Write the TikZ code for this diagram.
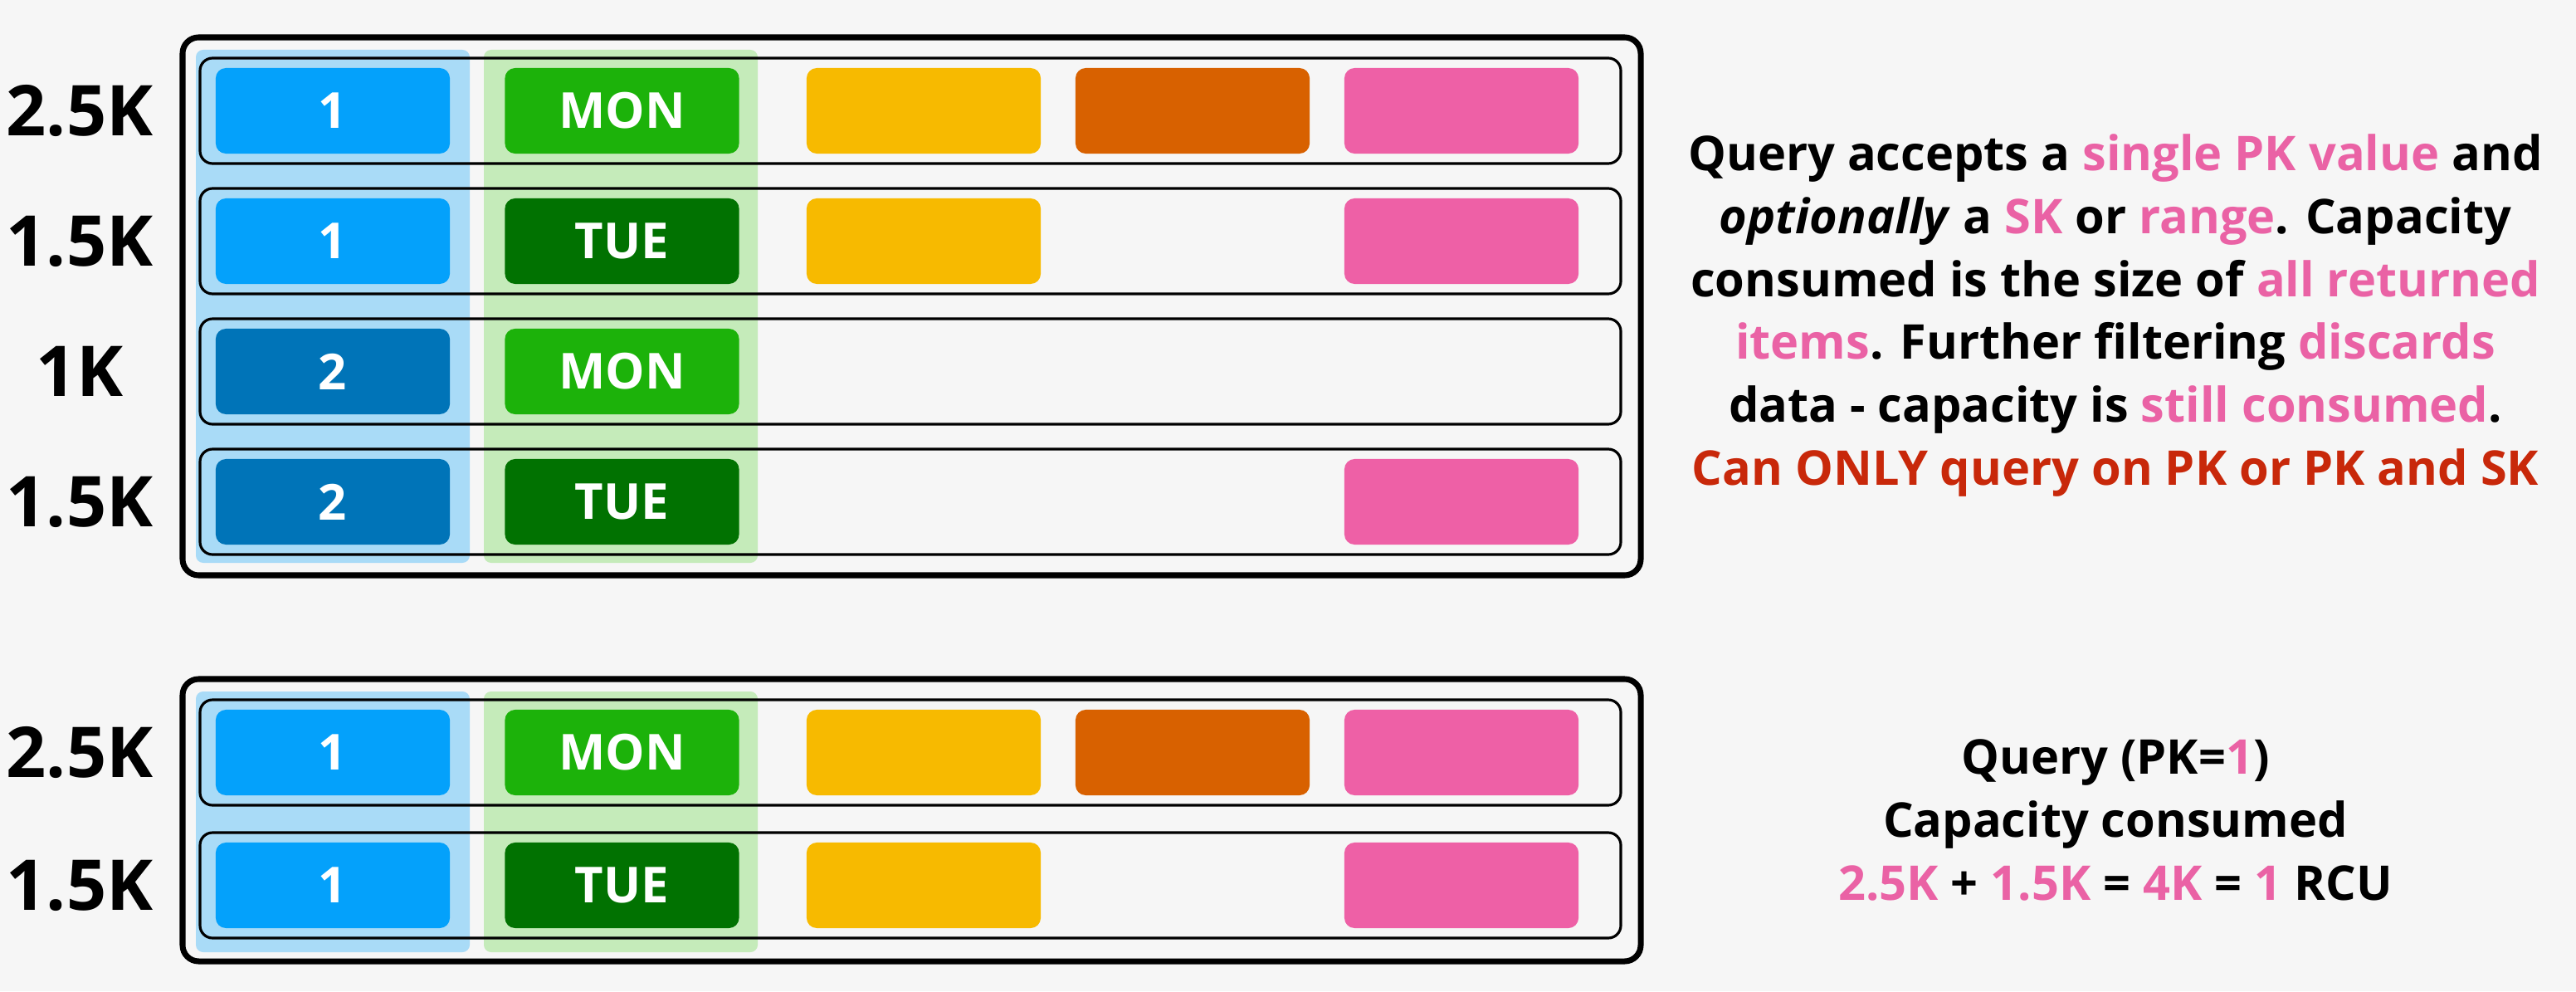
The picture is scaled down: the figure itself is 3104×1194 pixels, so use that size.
\documentclass[tikz,border=0pt]{standalone}
\usepackage{fontspec}
\setmainfont{Open Sans}
\usetikzlibrary{positioning}

\definecolor{bgcol}{HTML}{F6F6F6}
\definecolor{keyblue}{HTML}{04A1FB}
\definecolor{keydblue}{HTML}{0074B8}
\definecolor{daygreen}{HTML}{1CB20A}
\definecolor{daydgreen}{HTML}{017201}
\definecolor{attyellow}{HTML}{F7BA00}
\definecolor{attorange}{HTML}{D86100}
\definecolor{attpink}{HTML}{EE60A6}
\definecolor{txtpink}{HTML}{EA62A5}
\definecolor{txtred}{HTML}{C8280A}
\definecolor{colblue}{HTML}{A9DBF7}
\definecolor{colgreen}{HTML}{C5EBBA}

\newcommand{\pinktxt}[1]{\textcolor{txtpink}{#1}}

\tikzset{
  item/.style={rounded corners=3.5pt, minimum width=2.82cm, minimum height=1.03cm,
    inner sep=0pt, text=white, font=\fontsize{17}{18}\selectfont\bfseries},
  rowbox/.style={draw=black, line width=0.9pt, rounded corners=4.3pt},
  tablebox/.style={draw=black, line width=2pt, rounded corners=5.5pt},
  colmark/.style={rounded corners=2.5pt},
  sizelabel/.style={font=\fontsize{24}{26}\selectfont\bfseries},
  note/.style={align=center, font=\fontsize{16.4}{21.6}\selectfont\bfseries}
}

\begin{document}
\begin{tikzpicture}[x=0.01cm, y=-0.01cm]
  \fill[bgcol] (0,0) rectangle (3104,1194);
  \useasboundingbox (0,0) rectangle (3104,1194);
  % key / sort key columns
  \foreach \ty/\by in {60/678, 833/1147} {
    \fill[colmark, colblue] (236,\ty) rectangle (566,\by);
    \fill[colmark, colgreen] (583,\ty) rectangle (913,\by);
  }
  \draw[tablebox] (220,45) rectangle (1977,693);
  \draw[tablebox] (220,818) rectangle (1977,1158);
  % items
  \foreach \n/\ry/\size/\kc/\k/\dc/\d/\ya/\oa/\pa in {
      t1/70/2.5K/keyblue/1/daygreen/MON/1/1/1,
      t2/227/1.5K/keyblue/1/daydgreen/TUE/1/0/1,
      t3/384/1K/keydblue/2/daygreen/MON/0/0/0,
      t4/541/1.5K/keydblue/2/daydgreen/TUE/0/0/1,
      b1/843/2.5K/keyblue/1/daygreen/MON/1/1/1,
      b2/1003/1.5K/keyblue/1/daydgreen/TUE/1/0/1
    } {
    \draw[rowbox] (241,\ry) rectangle (1953,{\ry+127});
    \node[sizelabel] (lab\n) at (96,{\ry+63.5}) {\size};
    \node[item, fill=\kc] (key\n) at (401,{\ry+63.5}) {\k};
    \node[item, fill=\dc] (day\n) at (749.5,{\ry+63.5}) {\d};
    \ifnum\ya=1
      \node[item, fill=attyellow] (ya\n) at (1113,{\ry+63.5}) {};
    \fi
    \ifnum\oa=1
      \node[item, fill=attorange] (oa\n) at (1437,{\ry+63.5}) {};
    \fi
    \ifnum\pa=1
      \node[item, fill=attpink] (pa\n) at (1761,{\ry+63.5}) {};
    \fi
  }
  \node[note] (rules) at (2549,380) {%
    Query accepts a \pinktxt{single PK value} and\\
    \textit{optionally} a \pinktxt{SK} or \pinktxt{range}. Capacity\\
    consumed is the size of \pinktxt{all returned}\\
    \pinktxt{items}. Further filtering \pinktxt{discards}\\
    data - capacity is \pinktxt{still consumed}.\\
    \textcolor{txtred}{Can ONLY query on PK or PK and SK}};
  \node[note] (calc) at (2549,988) {%
    Query (PK=\pinktxt{1})\\
    Capacity consumed\\
    \pinktxt{2.5K} + \pinktxt{1.5K} = \pinktxt{4K} = \pinktxt{1} RCU};
\end{tikzpicture}
\end{document}
